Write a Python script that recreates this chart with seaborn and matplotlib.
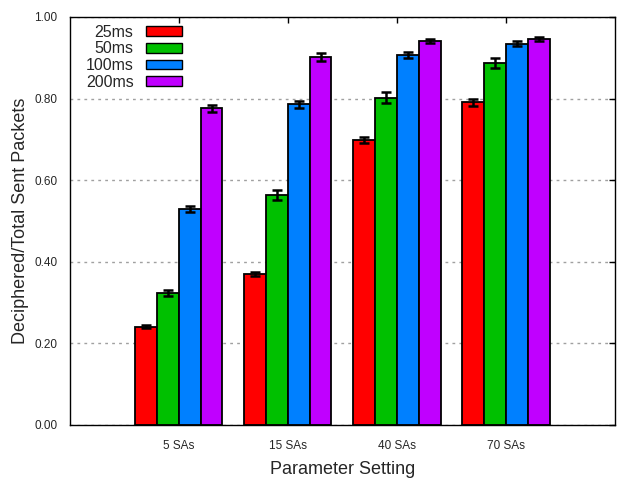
import matplotlib
matplotlib.use("Agg")
import matplotlib.pyplot as plt
import matplotlib.patches as mpatches
import numpy as np
import pandas as pd
import seaborn as sns

settings = ["5 SAs", "15 SAs", "40 SAs", "70 SAs"]
delays = ["25ms", "50ms", "100ms", "200ms"]
colors = ["#ff0000", "#00c000", "#0080ff", "#c000ff"]

# mean ratio per delay, one value per setting
ratio_25 = [0.241, 0.370, 0.699, 0.791]
ratio_50 = [0.324, 0.563, 0.802, 0.888]
ratio_100 = [0.529, 0.786, 0.906, 0.935]
ratio_200 = [0.776, 0.902, 0.941, 0.946]

err_25 = [0.004, 0.006, 0.008, 0.008]
err_50 = [0.008, 0.012, 0.014, 0.012]
err_100 = [0.008, 0.008, 0.007, 0.005]
err_200 = [0.009, 0.009, 0.004, 0.004]

means = [ratio_25, ratio_50, ratio_100, ratio_200]
errs = [err_25, err_50, err_100, err_200]

rows = []
for d, vals, ers in zip(delays, means, errs):
    for s, v, e in zip(settings, vals, ers):
        rows.append({"setting": s, "delay": d, "ratio": v, "err": e})
df = pd.DataFrame(rows)

sns.set_style("white")
plt.rcParams["font.family"] = ["Liberation Sans", "DejaVu Sans"]

fig = plt.figure(figsize=(6.4, 4.8), dpi=100)
ax = fig.add_axes([0.109, 0.1146, 0.852, 0.85])

sns.barplot(data=df, x="setting", y="ratio", hue="delay", order=settings,
            hue_order=delays, palette=colors, errorbar=None, width=0.8,
            edgecolor="black", linewidth=1.3, saturation=1, ax=ax, zorder=2)

# error bars at the bar centres
for i, d in enumerate(delays):
    cont = ax.containers[i]
    xs = [p.get_x() + p.get_width() / 2 for p in cont]
    ax.errorbar(xs, means[i], yerr=errs[i], fmt="none", ecolor="black",
                elinewidth=1.8, capsize=3.5, capthick=1.8, zorder=3)

ax.set_xlim(-1, 4)
ax.set_ylim(0, 1)
ax.set_yticks(np.arange(0, 1.01, 0.2))
ax.set_yticklabels([f"{v:.2f}" for v in np.arange(0, 1.01, 0.2)], fontsize=8.5)
ax.set_xticks(range(len(settings)))
ax.set_xticklabels(settings, fontsize=8.5)
ax.yaxis.grid(True, linestyle=(0, (2, 3)), color="#a0a0a0", linewidth=1, zorder=0)
ax.set_axisbelow(True)

ax.tick_params(axis="both", direction="in", length=4, width=1, color="black",
               top=True, right=True)
ax.tick_params(axis="x", pad=11)
ax.tick_params(axis="y", pad=9)
for sp in ax.spines.values():
    sp.set_color("black")
    sp.set_linewidth(1)

ax.set_xlabel("Parameter Setting", fontsize=13, labelpad=6)
ax.set_ylabel("Deciphered/Total Sent Packets", fontsize=13)

handles = [mpatches.Patch(facecolor=c, edgecolor="black", linewidth=1) for c in colors]
leg = ax.legend(handles, delays, loc="upper left", frameon=False, markerfirst=False,
                fontsize=11.5, handlelength=2.2, handleheight=0.55, labelspacing=0.1,
                handletextpad=0.8, borderaxespad=0.6, bbox_to_anchor=(0.0, 1.02))
for t in leg.get_texts():
    t.set_ha("right")

fig.savefig("out.png", dpi=100)
